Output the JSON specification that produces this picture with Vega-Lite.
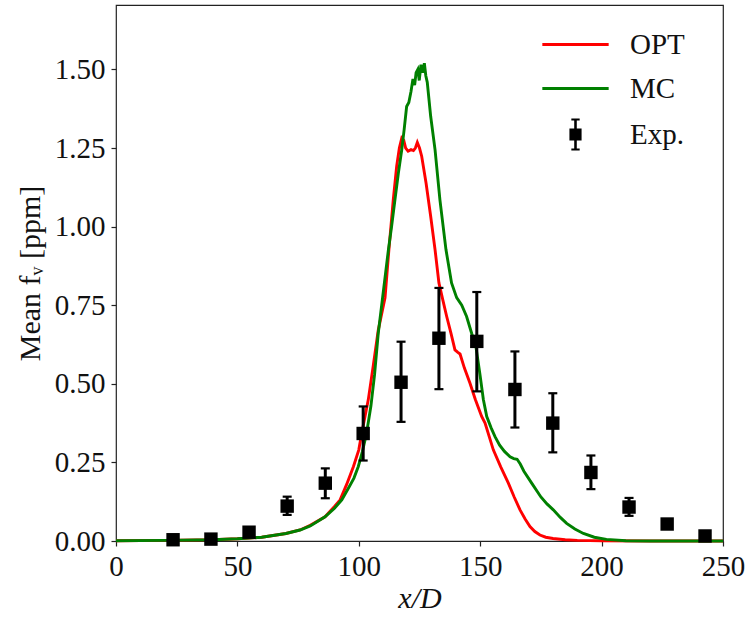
{
  "$schema": "https://vega.github.io/schema/vega-lite/v6.json",
  "autosize": {"type": "none"},
  "width": 607,
  "height": 536,
  "padding": {"left": 116, "top": 5, "right": 26, "bottom": 82},
  "background": "white",
  "config": {
    "font": "Liberation Serif",
    "view": {"stroke": "#222222", "strokeWidth": 1.2},
    "scale": {"continuousPadding": 0},
    "axis": {
      "domain": false,
      "grid": false,
      "labelFlush": false,
      "labelOverlap": false,
      "tickColor": "#222222",
      "tickSize": 5,
      "tickWidth": 1.2,
      "labelFont": "Liberation Serif",
      "labelFontSize": 29,
      "labelColor": "#111111",
      "labelPadding": 6,
      "titleFont": "Liberation Serif",
      "titleFontSize": 30,
      "titleFontWeight": "normal",
      "titleColor": "#111111"
    },
    "legend": {
      "labelFont": "Liberation Serif",
      "labelFontSize": 29,
      "labelColor": "#111111"
    }
  },
  "datasets": {
    "curves": [
      {"series": "OPT", "x": 0, "y": 0.001},
      {"series": "OPT", "x": 20, "y": 0.002},
      {"series": "OPT", "x": 40, "y": 0.004},
      {"series": "OPT", "x": 50, "y": 0.007},
      {"series": "OPT", "x": 60, "y": 0.012},
      {"series": "OPT", "x": 70, "y": 0.024},
      {"series": "OPT", "x": 75.8, "y": 0.035},
      {"series": "OPT", "x": 80, "y": 0.05},
      {"series": "OPT", "x": 86.1, "y": 0.077},
      {"series": "OPT", "x": 90, "y": 0.11},
      {"series": "OPT", "x": 92.3, "y": 0.131},
      {"series": "OPT", "x": 95, "y": 0.18},
      {"series": "OPT", "x": 97.8, "y": 0.237},
      {"series": "OPT", "x": 100, "y": 0.29},
      {"series": "OPT", "x": 101.2, "y": 0.343},
      {"series": "OPT", "x": 103.9, "y": 0.449},
      {"series": "OPT", "x": 106, "y": 0.56},
      {"series": "OPT", "x": 108, "y": 0.67},
      {"series": "OPT", "x": 110.8, "y": 0.774},
      {"series": "OPT", "x": 112.4, "y": 0.927},
      {"series": "OPT", "x": 114.2, "y": 1.086},
      {"series": "OPT", "x": 115.6, "y": 1.192},
      {"series": "OPT", "x": 116.7, "y": 1.25},
      {"series": "OPT", "x": 117.7, "y": 1.282},
      {"series": "OPT", "x": 118.5, "y": 1.275},
      {"series": "OPT", "x": 119.3, "y": 1.25},
      {"series": "OPT", "x": 120.3, "y": 1.24},
      {"series": "OPT", "x": 121.5, "y": 1.245},
      {"series": "OPT", "x": 122.5, "y": 1.242},
      {"series": "OPT", "x": 123.3, "y": 1.25},
      {"series": "OPT", "x": 124.1, "y": 1.268},
      {"series": "OPT", "x": 125, "y": 1.25},
      {"series": "OPT", "x": 125.9, "y": 1.224},
      {"series": "OPT", "x": 127.7, "y": 1.139},
      {"series": "OPT", "x": 129.6, "y": 1.033},
      {"series": "OPT", "x": 131.4, "y": 0.927},
      {"series": "OPT", "x": 133, "y": 0.821},
      {"series": "OPT", "x": 134.5, "y": 0.77},
      {"series": "OPT", "x": 136.2, "y": 0.714},
      {"series": "OPT", "x": 138, "y": 0.66},
      {"series": "OPT", "x": 139.6, "y": 0.608},
      {"series": "OPT", "x": 140.8, "y": 0.6},
      {"series": "OPT", "x": 141.7, "y": 0.595},
      {"series": "OPT", "x": 143.5, "y": 0.55},
      {"series": "OPT", "x": 145.8, "y": 0.502},
      {"series": "OPT", "x": 148, "y": 0.45},
      {"series": "OPT", "x": 150.6, "y": 0.396},
      {"series": "OPT", "x": 152, "y": 0.375},
      {"series": "OPT", "x": 155.4, "y": 0.29},
      {"series": "OPT", "x": 158.5, "y": 0.235},
      {"series": "OPT", "x": 161.6, "y": 0.184},
      {"series": "OPT", "x": 164, "y": 0.14},
      {"series": "OPT", "x": 166.4, "y": 0.099},
      {"series": "OPT", "x": 168.5, "y": 0.07},
      {"series": "OPT", "x": 170.5, "y": 0.046},
      {"series": "OPT", "x": 172.5, "y": 0.03},
      {"series": "OPT", "x": 174.6, "y": 0.019},
      {"series": "OPT", "x": 177, "y": 0.012},
      {"series": "OPT", "x": 180, "y": 0.008},
      {"series": "OPT", "x": 185, "y": 0.004},
      {"series": "OPT", "x": 190, "y": 0.002},
      {"series": "OPT", "x": 200, "y": 0.001},
      {"series": "OPT", "x": 220, "y": 0.0},
      {"series": "OPT", "x": 250, "y": 0.0},
      {"series": "MC", "x": 0, "y": 0.001},
      {"series": "MC", "x": 20, "y": 0.002},
      {"series": "MC", "x": 40, "y": 0.004},
      {"series": "MC", "x": 50, "y": 0.007},
      {"series": "MC", "x": 60, "y": 0.012},
      {"series": "MC", "x": 70, "y": 0.024},
      {"series": "MC", "x": 75.8, "y": 0.035},
      {"series": "MC", "x": 80, "y": 0.048},
      {"series": "MC", "x": 86.1, "y": 0.077},
      {"series": "MC", "x": 90, "y": 0.104},
      {"series": "MC", "x": 93, "y": 0.131},
      {"series": "MC", "x": 96, "y": 0.172},
      {"series": "MC", "x": 98, "y": 0.2},
      {"series": "MC", "x": 99.8, "y": 0.237},
      {"series": "MC", "x": 101.5, "y": 0.285},
      {"series": "MC", "x": 103.2, "y": 0.343},
      {"series": "MC", "x": 105, "y": 0.43},
      {"series": "MC", "x": 106.5, "y": 0.53},
      {"series": "MC", "x": 108, "y": 0.66},
      {"series": "MC", "x": 109.8, "y": 0.774},
      {"series": "MC", "x": 111, "y": 0.85},
      {"series": "MC", "x": 112.2, "y": 0.927},
      {"series": "MC", "x": 113.5, "y": 1.0},
      {"series": "MC", "x": 114.9, "y": 1.086},
      {"series": "MC", "x": 116.3, "y": 1.17},
      {"series": "MC", "x": 117.7, "y": 1.245},
      {"series": "MC", "x": 118.7, "y": 1.31},
      {"series": "MC", "x": 119.7, "y": 1.382},
      {"series": "MC", "x": 120.6, "y": 1.395},
      {"series": "MC", "x": 121.5, "y": 1.43},
      {"series": "MC", "x": 122.3, "y": 1.47},
      {"series": "MC", "x": 123, "y": 1.45},
      {"series": "MC", "x": 123.6, "y": 1.49},
      {"series": "MC", "x": 124.3, "y": 1.5},
      {"series": "MC", "x": 124.9, "y": 1.465},
      {"series": "MC", "x": 125.6, "y": 1.515},
      {"series": "MC", "x": 126.3, "y": 1.49},
      {"series": "MC", "x": 127, "y": 1.52},
      {"series": "MC", "x": 127.6, "y": 1.48},
      {"series": "MC", "x": 128.2, "y": 1.459},
      {"series": "MC", "x": 129.6, "y": 1.351},
      {"series": "MC", "x": 131.4, "y": 1.245},
      {"series": "MC", "x": 133.4, "y": 1.086},
      {"series": "MC", "x": 135.9, "y": 0.927},
      {"series": "MC", "x": 138.2, "y": 0.821},
      {"series": "MC", "x": 140.3, "y": 0.774},
      {"series": "MC", "x": 142.4, "y": 0.75},
      {"series": "MC", "x": 144.4, "y": 0.714},
      {"series": "MC", "x": 146.5, "y": 0.66},
      {"series": "MC", "x": 148.2, "y": 0.62},
      {"series": "MC", "x": 149.9, "y": 0.53},
      {"series": "MC", "x": 151.3, "y": 0.45},
      {"series": "MC", "x": 152.7, "y": 0.396},
      {"series": "MC", "x": 154.5, "y": 0.36},
      {"series": "MC", "x": 156.1, "y": 0.332},
      {"series": "MC", "x": 158, "y": 0.305},
      {"series": "MC", "x": 160, "y": 0.285},
      {"series": "MC", "x": 162.3, "y": 0.268},
      {"series": "MC", "x": 163.8, "y": 0.262},
      {"series": "MC", "x": 165.2, "y": 0.26},
      {"series": "MC", "x": 166.5, "y": 0.245},
      {"series": "MC", "x": 168, "y": 0.222},
      {"series": "MC", "x": 171.2, "y": 0.184},
      {"series": "MC", "x": 175, "y": 0.14},
      {"series": "MC", "x": 177.5, "y": 0.118},
      {"series": "MC", "x": 180.1, "y": 0.099},
      {"series": "MC", "x": 183, "y": 0.075},
      {"series": "MC", "x": 185.6, "y": 0.056},
      {"series": "MC", "x": 189, "y": 0.038},
      {"series": "MC", "x": 192.5, "y": 0.024},
      {"series": "MC", "x": 197, "y": 0.012},
      {"series": "MC", "x": 202, "y": 0.005},
      {"series": "MC", "x": 210, "y": 0.001},
      {"series": "MC", "x": 220, "y": 0.0},
      {"series": "MC", "x": 250, "y": 0.0}
    ],
    "exp": [
      {"series": "Exp.", "x": 23.5, "y": 0.004, "lo": 0.0, "hi": 0.008},
      {"series": "Exp.", "x": 39.1, "y": 0.006, "lo": 0.002, "hi": 0.01},
      {"series": "Exp.", "x": 54.8, "y": 0.028, "lo": 0.02, "hi": 0.036},
      {"series": "Exp.", "x": 70.5, "y": 0.111, "lo": 0.083, "hi": 0.141},
      {"series": "Exp.", "x": 86.2, "y": 0.184, "lo": 0.136, "hi": 0.231},
      {"series": "Exp.", "x": 101.8, "y": 0.342, "lo": 0.256, "hi": 0.428},
      {"series": "Exp.", "x": 117.4, "y": 0.505, "lo": 0.379, "hi": 0.634},
      {"series": "Exp.", "x": 133, "y": 0.645, "lo": 0.483, "hi": 0.805},
      {"series": "Exp.", "x": 148.6, "y": 0.635, "lo": 0.476, "hi": 0.792},
      {"series": "Exp.", "x": 164.3, "y": 0.482, "lo": 0.361, "hi": 0.603},
      {"series": "Exp.", "x": 179.9, "y": 0.375, "lo": 0.282, "hi": 0.47},
      {"series": "Exp.", "x": 195.6, "y": 0.218, "lo": 0.165, "hi": 0.272},
      {"series": "Exp.", "x": 211.3, "y": 0.108, "lo": 0.08, "hi": 0.137},
      {"series": "Exp.", "x": 227, "y": 0.054, "lo": 0.046, "hi": 0.062},
      {"series": "Exp.", "x": 242.6, "y": 0.016, "lo": 0.008, "hi": 0.024}
    ]
  },
  "encoding": {
    "x": {
      "type": "quantitative",
      "scale": {"domain": [0, 250], "nice": false, "zero": false, "padding": 0},
      "axis": {"values": [0, 50, 100, 150, 200, 250], "title": "x/D", "titleFontStyle": "italic", "titlePadding": 2}
    },
    "color": {
      "field": "series",
      "type": "nominal",
      "scale": {"domain": ["OPT", "MC", "Exp."], "range": ["#ff0000", "#008000", "#000000"]},
      "legend": {
        "title": null,
        "orient": "none",
        "legendX": 445,
        "legendY": 25,
        "symbolSize": 1024,
        "rowPadding": 14,
        "labelOffset": 40,
        "encode": {
          "symbols": {
            "update": {
              "shape": {"signal": "datum.value === 'Exp.' ? 'M-0.38,-0.38H0.38V0.38H-0.38Z M-0.08,-1H0.08V1H-0.08Z M-0.26,-1H0.26V-0.87H-0.26Z M-0.26,0.87H0.26V1H-0.26Z' : 'stroke'"},
              "size": {"signal": "datum.value === 'Exp.' ? 1024 : 4400"},
              "stroke": {"signal": "datum.value === 'OPT' ? '#ff0000' : (datum.value === 'MC' ? '#008000' : 'transparent')"},
              "fill": {"signal": "datum.value === 'Exp.' ? '#000000' : 'transparent'"},
              "strokeWidth": {"signal": "datum.value === 'Exp.' ? 0 : 3"},
              "opacity": {"value": 1}
            }
          }
        }
      }
    }
  },
  "layer": [
    {
      "data": {"name": "curves"},
      "mark": {"type": "line", "strokeWidth": 2.9, "interpolate": "linear"},
      "encoding": {
        "x": {"field": "x", "type": "quantitative"},
        "y": {
          "field": "y",
          "type": "quantitative",
          "scale": {"domain": [0, 1.705], "nice": false, "padding": 0},
          "axis": {"values": [0, 0.25, 0.5, 0.75, 1.0, 1.25, 1.5], "format": ".2f", "title": "Mean fᵥ [ppm]", "titlePadding": 9}
        }
      }
    },
    {
      "data": {"name": "exp"},
      "mark": {"type": "rule", "strokeWidth": 3},
      "encoding": {
        "x": {"field": "x", "type": "quantitative"},
        "y": {"field": "lo", "type": "quantitative"},
        "y2": {"field": "hi"}
      }
    },
    {
      "data": {"name": "exp"},
      "mark": {"type": "point", "shape": "stroke", "filled": false, "size": 81, "strokeWidth": 2.2, "opacity": 1},
      "encoding": {
        "x": {"field": "x", "type": "quantitative"},
        "y": {"field": "lo", "type": "quantitative"}
      }
    },
    {
      "data": {"name": "exp"},
      "mark": {"type": "point", "shape": "stroke", "filled": false, "size": 81, "strokeWidth": 2.2, "opacity": 1},
      "encoding": {
        "x": {"field": "x", "type": "quantitative"},
        "y": {"field": "hi", "type": "quantitative"}
      }
    },
    {
      "data": {"name": "exp"},
      "mark": {"type": "point", "shape": "square", "filled": true, "size": 180, "opacity": 1},
      "encoding": {
        "x": {"field": "x", "type": "quantitative"},
        "y": {"field": "y", "type": "quantitative"}
      }
    }
  ]
}
